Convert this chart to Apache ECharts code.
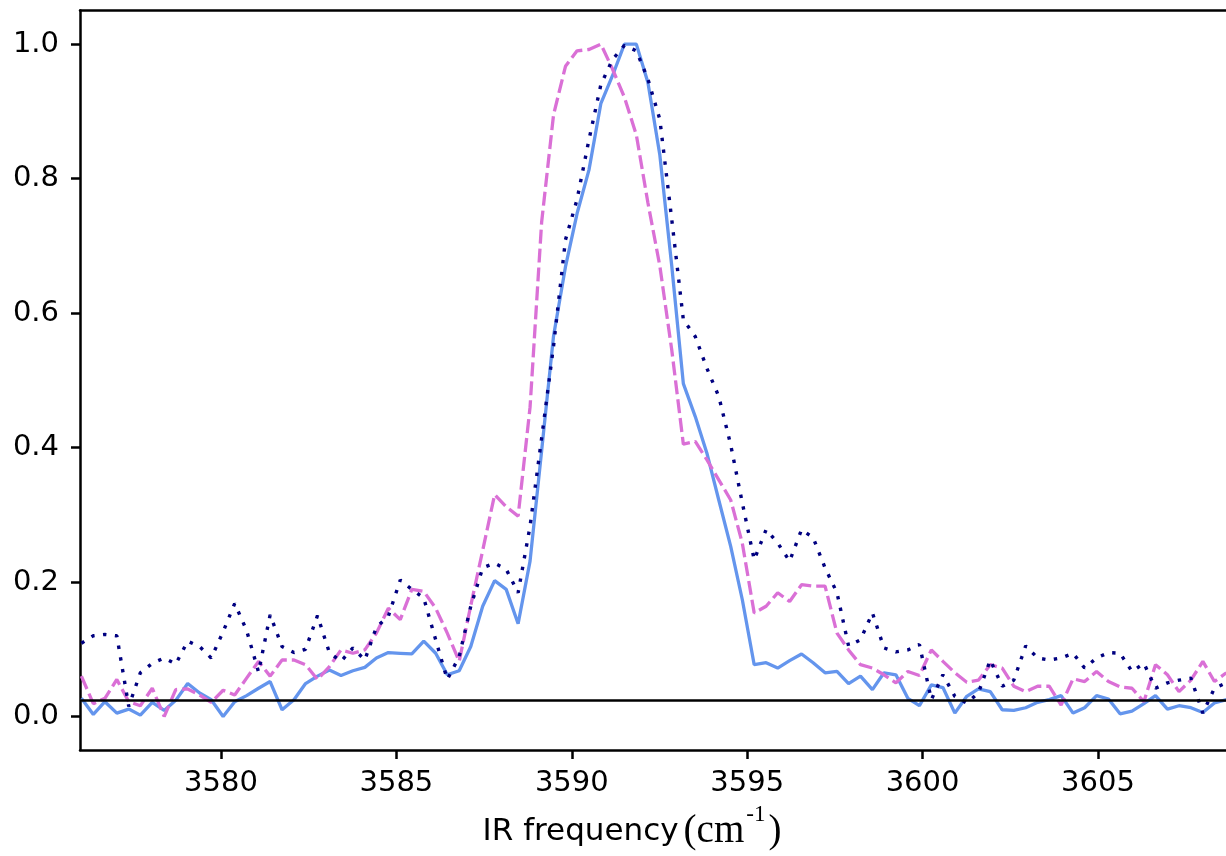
<!DOCTYPE html>
<html>
<head>
  <meta charset="UTF-8">
  <title>IR spectrum</title>
  <script src="https://cdn.jsdelivr.net/npm/echarts@6/dist/echarts.min.js"></script>
  <style>
    html, body { margin: 0; padding: 0; background: #fff; }
    #chart { width: 1226px; height: 856px; }
  </style>
</head>
<body>
  <div id="chart"></div>
  <script>
    // frequency grid (cm-1)
    const freq = [
      3576.02, 3576.36, 3576.69, 3577.03, 3577.37, 3577.70, 3578.04, 3578.38, 3578.71, 3579.05,
      3579.39, 3579.72, 3580.06, 3580.39, 3580.73, 3581.07, 3581.40, 3581.74, 3582.08, 3582.41,
      3582.75, 3583.09, 3583.42, 3583.76, 3584.10, 3584.43, 3584.77, 3585.11, 3585.44, 3585.78,
      3586.12, 3586.45, 3586.79, 3587.12, 3587.46, 3587.80, 3588.13, 3588.47, 3588.81, 3589.14,
      3589.48, 3589.82, 3590.15, 3590.49, 3590.83, 3591.16, 3591.50, 3591.84, 3592.17, 3592.51,
      3592.85, 3593.18, 3593.52, 3593.85, 3594.19, 3594.53, 3594.86, 3595.20, 3595.54, 3595.87,
      3596.21, 3596.55, 3596.88, 3597.22, 3597.56, 3597.89, 3598.23, 3598.57, 3598.90, 3599.24,
      3599.58, 3599.91, 3600.25, 3600.58, 3600.92, 3601.26, 3601.59, 3601.93, 3602.27, 3602.60,
      3602.94, 3603.28, 3603.61, 3603.95, 3604.29, 3604.62, 3604.96, 3605.30, 3605.63, 3605.97,
      3606.31, 3606.64, 3606.98, 3607.31, 3607.65, 3607.99, 3608.32, 3608.66
    ];

    // solid (cornflower blue)
    const solidY = [
      0.027, 0.003, 0.022, 0.005, 0.011, 0.002, 0.021, 0.009, 0.024, 0.049,
      0.035, 0.025, 0.000, 0.022, 0.031, 0.042, 0.052, 0.010, 0.025, 0.049,
      0.060, 0.069, 0.061, 0.068, 0.073, 0.087, 0.095, 0.094, 0.093, 0.112,
      0.094, 0.062, 0.068, 0.104, 0.164, 0.202, 0.189, 0.138, 0.231, 0.395,
      0.566, 0.669, 0.748, 0.813, 0.912, 0.953, 1.000, 1.000, 0.943, 0.835,
      0.670, 0.495, 0.446, 0.392, 0.322, 0.253, 0.174, 0.077, 0.080, 0.072,
      0.083, 0.093, 0.080, 0.065, 0.067, 0.049, 0.060, 0.040, 0.065, 0.062,
      0.027, 0.016, 0.047, 0.043, 0.005, 0.030, 0.041, 0.037, 0.010, 0.009,
      0.013, 0.021, 0.025, 0.031, 0.005, 0.013, 0.031, 0.026, 0.004, 0.008,
      0.019, 0.031, 0.011, 0.016, 0.013, 0.006, 0.020, 0.025
    ];

    // dashed (orchid)
    const dashedY = [
      0.060, 0.019, 0.027, 0.055, 0.022, 0.016, 0.042, 0.000, 0.040, 0.041,
      0.032, 0.021, 0.039, 0.032, 0.057, 0.082, 0.060, 0.084, 0.084, 0.077,
      0.055, 0.074, 0.099, 0.094, 0.099, 0.124, 0.161, 0.144, 0.189, 0.186,
      0.161, 0.124, 0.082, 0.165, 0.247, 0.330, 0.312, 0.298, 0.460, 0.735,
      0.895, 0.967, 0.990, 0.992, 1.000, 0.963, 0.921, 0.865, 0.764, 0.670,
      0.545, 0.405, 0.409, 0.382, 0.352, 0.322, 0.258, 0.154, 0.164, 0.184,
      0.171, 0.196, 0.194, 0.194, 0.124, 0.099, 0.077, 0.072, 0.062, 0.050,
      0.067, 0.061, 0.099, 0.082, 0.065, 0.051, 0.054, 0.077, 0.072, 0.045,
      0.037, 0.045, 0.045, 0.017, 0.056, 0.052, 0.067, 0.052, 0.044, 0.042,
      0.022, 0.077, 0.062, 0.037, 0.054, 0.082, 0.052, 0.065
    ];

    // dotted (navy)
    const dottedY = [
      0.109, 0.120, 0.122, 0.120, 0.015, 0.065, 0.079, 0.087, 0.078, 0.112,
      0.104, 0.087, 0.126, 0.168, 0.128, 0.066, 0.151, 0.104, 0.095, 0.100,
      0.150, 0.095, 0.082, 0.102, 0.084, 0.133, 0.149, 0.203, 0.189, 0.176,
      0.114, 0.055, 0.089, 0.164, 0.221, 0.228, 0.219, 0.184, 0.283, 0.414,
      0.551, 0.709, 0.769, 0.858, 0.940, 0.977, 0.998, 0.990, 0.948, 0.888,
      0.739, 0.590, 0.565, 0.518, 0.476, 0.404, 0.318, 0.233, 0.278, 0.258,
      0.231, 0.278, 0.266, 0.221, 0.184, 0.105, 0.114, 0.154, 0.102, 0.096,
      0.099, 0.107, 0.025, 0.062, 0.030, 0.020, 0.035, 0.084, 0.045, 0.054,
      0.105, 0.087, 0.084, 0.087, 0.094, 0.072, 0.087, 0.095, 0.094, 0.067,
      0.079, 0.042, 0.050, 0.054, 0.057, 0.005, 0.042, 0.050
    ];

    const baseline = 0.024;
    const xTicks = [3580, 3585, 3590, 3595, 3600, 3605];
    const yTicks = [0.0, 0.2, 0.4, 0.6, 0.8, 1.0];

    const pairs = ys => freq.map((x, i) => [x, ys[i]]);

    const tickFont = { fontFamily: 'DejaVu Sans', fontSize: 29, color: '#000' };
    const spine = { show: true, onZero: false, lineStyle: { color: '#000', width: 2.5 } };

    const chart = echarts.init(document.getElementById('chart'));
    chart.setOption({
      animation: false,
      backgroundColor: '#fff',
      grid: { left: 80, right: 0, top: 10.5, bottom: 105.5, containLabel: false },
      xAxis: [
        {
          type: 'value',
          position: 'bottom',
          min: 3575.98,
          max: 3608.65,
          axisLine: spine,
          axisTick: { show: true, length: 9, lineStyle: { width: 2.5, color: '#000' }, customValues: xTicks },
          axisLabel: Object.assign({ margin: 19, customValues: xTicks, formatter: v => String(v) }, tickFont),
          splitLine: { show: false },
          name: '{a|IR frequency}{b|(cm}{s|-1}{b|)}',
          nameLocation: 'middle',
          nameGap: 52,
          nameTextStyle: {
            padding: [0, 42, 0, 0],
            rich: {
              a: { fontFamily: 'DejaVu Sans', fontSize: 31, color: '#000', padding: [0, 5, 0, 0] },
              b: { fontFamily: 'Liberation Serif', fontSize: 39, color: '#000' },
              s: { fontFamily: 'Liberation Serif', fontSize: 23, color: '#000', padding: [0, 3, 34, 2] }
            }
          }
        },
        {
          type: 'value',
          position: 'top',
          min: 3575.98,
          max: 3608.65,
          axisLine: spine,
          axisTick: { show: false },
          axisLabel: { show: false },
          splitLine: { show: false }
        }
      ],
      yAxis: {
        type: 'value',
        min: -0.05,
        max: 1.05,
        axisLine: spine,
        axisTick: { show: true, length: 9, lineStyle: { width: 2.5, color: '#000' }, customValues: yTicks },
        axisLabel: Object.assign({ margin: 21, customValues: yTicks, formatter: v => v.toFixed(1) }, tickFont),
        splitLine: { show: false }
      },
      series: [
        {
          type: 'line',
          data: pairs(solidY),
          showSymbol: false,
          lineStyle: { color: '#6495ED', width: 3.3 },
          markLine: {
            silent: true,
            symbol: 'none',
            precision: 4,
            label: { show: false },
            lineStyle: { color: '#000', width: 2.5, type: 'solid' },
            data: [{ yAxis: baseline }]
          }
        },
        {
          type: 'line',
          data: pairs(dashedY),
          showSymbol: false,
          lineStyle: { color: '#DA70D6', width: 3.3, type: [14, 5], cap: 'butt' }
        },
        {
          type: 'line',
          data: pairs(dottedY),
          showSymbol: false,
          lineStyle: { color: '#000080', width: 3.4, type: [3.4, 8.5], cap: 'butt' }
        }
      ]
    });
  </script>
</body>
</html>
